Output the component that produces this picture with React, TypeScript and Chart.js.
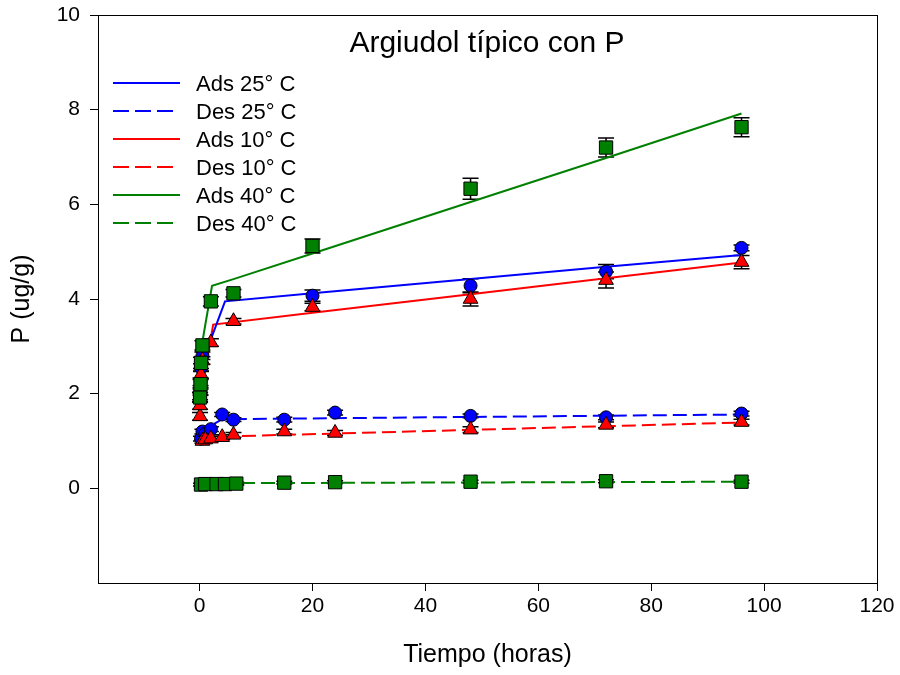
import React, { useEffect, useRef } from "react";
import { Chart, registerables } from "chart.js";

Chart.register(...registerables);

const FONT = "'Liberation Sans', Arial, Helvetica, sans-serif";

const BLUE = "#0000FF";
const RED = "#FF0000";
const GREEN = "#008000";

// Axis ticks
const xTicks = [0, 20, 40, 60, 80, 100, 120];
const yTicks = [0, 2, 4, 6, 8, 10];

// Adsorption 25 °C (measured)
const adsTime25 = [0.08, 0.17, 0.25, 0.5, 20, 48, 72, 96];
const ads25 = [1.95, 2.25, 2.55, 2.8, 4.07, 4.28, 4.58, 5.08];
const ads25Err = [0.08, 0.08, 0.08, 0.08, 0.12, 0.15, 0.15, 0.06];

// Desorption 25 °C (measured)
const desTime25 = [0.25, 0.5, 1, 2, 4, 6, 15, 24, 48, 72, 96];
const des25 = [1.05, 1.2, 1.15, 1.25, 1.56, 1.45, 1.45, 1.6, 1.53, 1.5, 1.58];
const des25Err = [0.05, 0.05, 0.05, 0.05, 0.04, 0.04, 0.05, 0.05, 0.04, 0.05, 0.05];

// Adsorption 10 °C (measured)
const adsTime10 = [0.08, 0.17, 0.25, 0.5, 2, 6, 20, 48, 72, 96];
const ads10 = [1.75, 2.05, 2.4, 2.7, 3.08, 3.53, 3.83, 4.0, 4.4, 4.78];
const ads10Err = [0.08, 0.08, 0.08, 0.08, 0.08, 0.06, 0.08, 0.15, 0.17, 0.14];

// Desorption 10 °C (measured)
const desTime10 = [0.08, 0.5, 1, 2, 4, 6, 15, 24, 48, 72, 96];
const des10 = [1.52, 1.0, 1.03, 1.05, 1.08, 1.13, 1.2, 1.17, 1.24, 1.34, 1.4];
const des10Err = [0.08, 0.05, 0.05, 0.05, 0.05, 0.05, 0.05, 0.05, 0.06, 0.06, 0.06];

// Adsorption 40 °C (measured)
const adsTime40 = [0.08, 0.17, 0.25, 0.5, 2, 6, 20, 48, 72, 96];
const ads40 = [1.92, 2.2, 2.65, 3.02, 3.95, 4.12, 5.12, 6.33, 7.2, 7.63];
const ads40Err = [0.1, 0.1, 0.12, 0.1, 0.1, 0.08, 0.15, 0.22, 0.2, 0.2];

// Desorption 40 °C (measured)
const desTime40 = [0.25, 1, 3, 4.5, 6.5, 15, 24, 48, 72, 96];
const des40 = [0.08, 0.09, 0.09, 0.09, 0.1, 0.12, 0.13, 0.14, 0.15, 0.14];
const des40Err = [0.03, 0.03, 0.03, 0.03, 0.03, 0.03, 0.03, 0.03, 0.03, 0.03];

// Fitted curves
const fitAdsTime25 = [0.08, 0.25, 0.5, 1, 4.5, 20, 48, 72, 96];
const fitAds25 = [1.9, 2.25, 2.55, 2.83, 3.95, 4.12, 4.42, 4.68, 4.93];

const fitDesTime25 = [0.25, 1, 2, 4, 96];
const fitDes25 = [1.05, 1.2, 1.32, 1.46, 1.56];

const fitAdsTime10 = [0.08, 0.25, 0.5, 1, 1.5, 2.4, 20, 48, 72, 96];
const fitAds10 = [1.7, 2.0, 2.3, 2.6, 2.83, 3.46, 3.71, 4.1, 4.44, 4.77];

const fitDesTime10 = [0.5, 2, 6, 96];
const fitDes10 = [1.0, 1.05, 1.1, 1.39];

const fitAdsTime40 = [0.08, 0.25, 0.5, 1, 2.2, 6, 20, 48, 72, 96];
const fitAds40 = [2.0, 2.92, 3.1, 3.45, 4.28, 4.42, 4.96, 6.05, 6.98, 7.92];

const fitDesTime40 = [0.25, 2, 6, 96];
const fitDes40 = [0.08, 0.1, 0.11, 0.14];

// Legend entries
const legendLabels = ["Ads 25° C", "Des 25° C", "Ads 10° C", "Des 10° C", "Ads 40° C", "Des 40° C"];
const legendColors = [BLUE, BLUE, RED, RED, GREEN, GREEN];
const legendDashed = [false, true, false, true, false, true];

const DASH = [14, 6];

const toXY = (xs: number[], ys: number[]) => xs.map((x, i) => ({ x, y: ys[i] }));

function lineSet(xs: number[], ys: number[], color: string, dashed: boolean, order: number) {
  return {
    type: "line" as const,
    data: toXY(xs, ys),
    borderColor: color,
    borderWidth: 2,
    borderDash: dashed ? DASH : [],
    pointRadius: 0,
    fill: false,
    tension: 0,
    showLine: true,
    order,
  };
}

function pointSet(
  xs: number[],
  ys: number[],
  errs: number[],
  color: string,
  style: string,
  radius: number,
  order: number
) {
  return {
    type: "scatter" as const,
    data: toXY(xs, ys),
    errors: errs,
    backgroundColor: color,
    borderColor: "#000",
    borderWidth: 1,
    pointStyle: style,
    pointRadius: radius,
    showLine: false,
    order,
  };
}

// Black outline around the plotting area
const framePlugin = {
  id: "frame",
  afterDraw(chart: any) {
    const { ctx, chartArea: a } = chart;
    ctx.save();
    ctx.strokeStyle = "#000";
    ctx.lineWidth = 1;
    ctx.strokeRect(a.left + 0.5, a.top + 0.5, a.right - a.left, a.bottom - a.top);
    ctx.restore();
  },
};

// Vertical error bars with caps, under the markers
const errorBarPlugin = {
  id: "errorBars",
  beforeDatasetsDraw(chart: any) {
    const { ctx } = chart;
    const yScale = chart.scales.y;
    ctx.save();
    ctx.strokeStyle = "#000";
    ctx.lineWidth = 1.5;
    chart.data.datasets.forEach((ds: any, i: number) => {
      if (!ds.errors) return;
      const meta = chart.getDatasetMeta(i);
      meta.data.forEach((el: any, j: number) => {
        const v = ds.data[j].y;
        const e = ds.errors[j];
        const x = el.x;
        const yt = yScale.getPixelForValue(v + e);
        const yb = yScale.getPixelForValue(v - e);
        ctx.beginPath();
        ctx.moveTo(x, yt);
        ctx.lineTo(x, yb);
        ctx.moveTo(x - 8, yt);
        ctx.lineTo(x + 8, yt);
        ctx.moveTo(x - 8, yb);
        ctx.lineTo(x + 8, yb);
        ctx.stroke();
      });
    });
    ctx.restore();
  },
};

// Title and legend drawn inside the plotting area
const annotationPlugin = {
  id: "annotations",
  afterDraw(chart: any) {
    const { ctx } = chart;
    ctx.save();
    ctx.fillStyle = "#000";
    ctx.textAlign = "center";
    ctx.textBaseline = "alphabetic";
    ctx.font = `30px ${FONT}`;
    ctx.fillText("Argiudol típico con P", 487, 52);

    ctx.font = `22px ${FONT}`;
    ctx.textAlign = "left";
    legendLabels.forEach((label, i) => {
      const y = 83 + i * 28;
      ctx.strokeStyle = legendColors[i];
      ctx.lineWidth = 2;
      ctx.setLineDash(legendDashed[i] ? [16, 6] : []);
      ctx.beginPath();
      ctx.moveTo(113, y);
      ctx.lineTo(legendDashed[i] ? 173 : 180, y);
      ctx.stroke();
      ctx.setLineDash([]);
      ctx.fillStyle = "#000";
      ctx.fillText(label, 196, y + 7.5);
    });
    ctx.restore();
  },
};

export default function App() {
  const canvasRef = useRef<HTMLCanvasElement | null>(null);

  useEffect(() => {
    document.body.style.margin = "0";
    const canvas = canvasRef.current;
    if (!canvas) return;

    const datasets: any[] = [
      // fitted curves (drawn beneath the markers)
      lineSet(fitAdsTime25, fitAds25, BLUE, false, 20),
      lineSet(fitDesTime25, fitDes25, BLUE, true, 20),
      lineSet(fitAdsTime10, fitAds10, RED, false, 20),
      lineSet(fitDesTime10, fitDes10, RED, true, 20),
      lineSet(fitAdsTime40, fitAds40, GREEN, false, 20),
      lineSet(fitDesTime40, fitDes40, GREEN, true, 20),
      // measured values
      pointSet(adsTime25, ads25, ads25Err, BLUE, "circle", 6.5, 5),
      pointSet(desTime25, des25, des25Err, BLUE, "circle", 6.5, 5),
      pointSet(adsTime10, ads10, ads10Err, RED, "triangle", 8.5, 3),
      pointSet(desTime10, des10, des10Err, RED, "triangle", 8.5, 3),
      pointSet(adsTime40, ads40, ads40Err, GREEN, "rect", 9.4, 1),
      pointSet(desTime40, des40, des40Err, GREEN, "rect", 9.4, 1),
    ];

    const axisCommon = {
      type: "linear" as const,
      grid: {
        display: true,
        drawOnChartArea: false,
        drawTicks: true,
        tickLength: 8,
        tickColor: "#000",
        tickWidth: 1,
        color: "#000",
      },
      border: { display: true, color: "#000", width: 1 },
    };

    const chart = new Chart(canvas, {
      type: "scatter",
      data: { datasets },
      options: {
        animation: false,
        responsive: false,
        devicePixelRatio: 1,
        layout: { padding: { top: 15, right: 23, left: 0, bottom: 0 } },
        plugins: {
          legend: { display: false },
          title: { display: false },
          tooltip: { enabled: false },
        },
        scales: {
          x: {
            ...axisCommon,
            min: -18,
            max: 120,
            afterBuildTicks: (s: any) => {
              s.ticks = xTicks.map((v) => ({ value: v }));
            },
            afterFit: (s: any) => {
              s.height = 92;
              s.paddingLeft = 0;
              s.paddingRight = 0;
            },
            ticks: {
              color: "#000",
              font: { family: FONT, size: 21 },
              padding: 3,
              maxRotation: 0,
              autoSkip: false,
            },
            title: {
              display: true,
              text: "Tiempo (horas)",
              color: "#000",
              font: { family: FONT, size: 25 },
              padding: { top: 0, bottom: 5 },
            },
          },
          y: {
            ...axisCommon,
            min: -2,
            max: 10,
            afterBuildTicks: (s: any) => {
              s.ticks = yTicks.map((v) => ({ value: v }));
            },
            afterFit: (s: any) => {
              s.width = 98;
              s.paddingTop = 0;
              s.paddingBottom = 0;
            },
            ticks: {
              color: "#000",
              font: { family: FONT, size: 21 },
              padding: 10,
              autoSkip: false,
            },
            title: {
              display: true,
              text: "P (ug/g)",
              color: "#000",
              font: { family: FONT, size: 25 },
              padding: { top: 7, bottom: 0 },
            },
          },
        },
      } as any,
      plugins: [errorBarPlugin, framePlugin, annotationPlugin],
    });

    return () => chart.destroy();
  }, []);

  return (
    <div style={{ width: 900, height: 675, background: "#fff" }}>
      <canvas ref={canvasRef} width={900} height={675} style={{ display: "block" }} />
    </div>
  );
}
